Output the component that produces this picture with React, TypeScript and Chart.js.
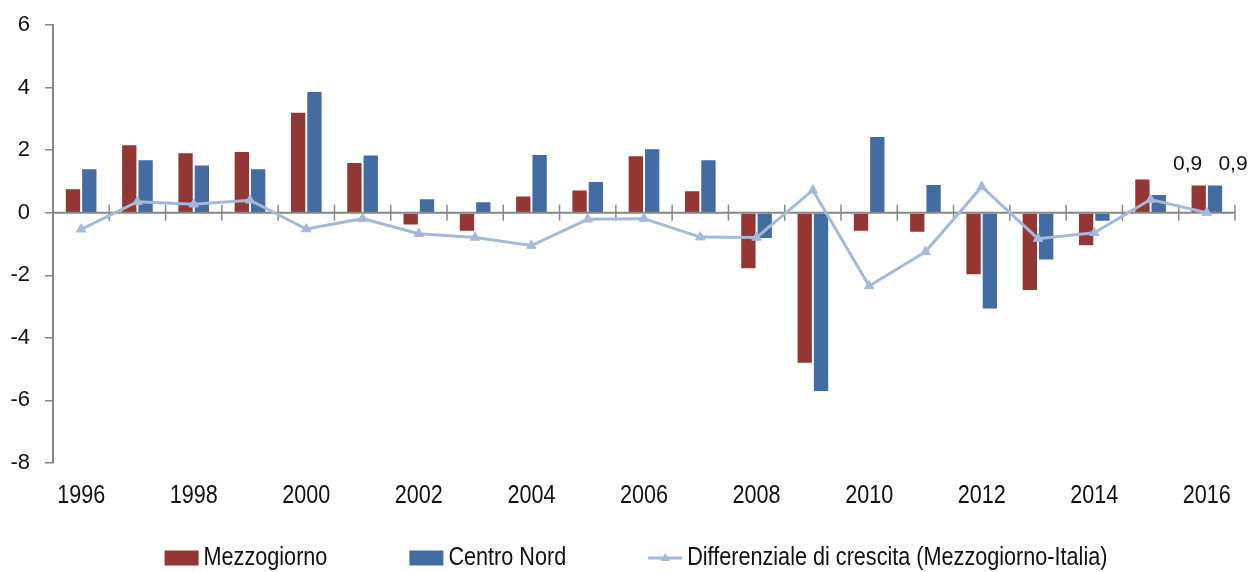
import React, { useEffect, useRef } from "react";
import { Chart, registerables, CategoryScale } from "chart.js";

const years = [
  "1996", "1997", "1998", "1999", "2000", "2001", "2002", "2003", "2004", "2005", "2006",
  "2007", "2008", "2009", "2010", "2011", "2012", "2013", "2014", "2015", "2016",
];
const mezzogiorno = [
  0.78, 2.19, 1.93, 1.97, 3.23, 1.62, -0.41, -0.61, 0.55, 0.74, 1.84,
  0.72, -1.81, -4.83, -0.61, -0.64, -2.0, -2.5, -1.07, 1.09, 0.9,
];
const centroNord = [
  1.42, 1.71, 1.54, 1.42, 3.89, 1.86, 0.46, 0.37, 1.88, 1.01, 2.06,
  1.71, -0.84, -5.73, 2.45, 0.92, -3.09, -1.53, -0.29, 0.6, 0.9,
];
const differenziale = [
  -0.53, 0.35, 0.27, 0.4, -0.52, -0.19, -0.67, -0.79, -1.05, -0.21, -0.19,
  -0.78, -0.79, 0.72, -2.34, -1.25, 0.83, -0.83, -0.64, 0.42, 0.0,
];
const yTicks = [6, 4, 2, 0, -2, -4, -6, -8];
// data labels: [datasetIndex, dataIndex, horizontal nudge]
const dataLabels: [number, number, number][] = [
  [0, 20, -11],
  [1, 20, 18],
];

const REGULAR = '"Liberation Sans", Arial, sans-serif';
const SQUEEZE = 0.83; // emulate a narrow typeface
const AXIS_GREY = "#878787";
const RED = "#943634";
const BLUE = "#436ca3";
const LINE = "#a5b9da";

// Category scale whose labels are drawn horizontally condensed
class NarrowCategoryScale extends (CategoryScale as any) {
  static id = "narrowCategory";
  drawLabels(chartArea: any) {
    const ctx = (this as any).ctx as CanvasRenderingContext2D;
    const items = (this as any).getLabelItems(chartArea);
    for (const item of items) {
      const { label, font, textOffset, options } = item;
      if (!label) continue;
      ctx.save();
      ctx.font = font.string;
      ctx.fillStyle = options.color;
      ctx.textAlign = "center";
      ctx.textBaseline = options.textBaseline || "middle";
      ctx.translate(options.translation[0], options.translation[1]);
      ctx.scale(SQUEEZE, 1);
      ctx.fillText(String(label), 0, textOffset);
      ctx.restore();
    }
  }
}

Chart.register(...registerables, NarrowCategoryScale as any);

function drawTriangle(ctx: CanvasRenderingContext2D, x: number, y: number, r: number) {
  ctx.beginPath();
  ctx.moveTo(x, y - r);
  ctx.lineTo(x + r * 0.95, y + r * 0.6);
  ctx.lineTo(x - r * 0.95, y + r * 0.6);
  ctx.closePath();
  ctx.fill();
}

const zeroAxisPlugin = {
  id: "zeroAxis",
  beforeDatasetDraw(chart: any, args: any) {
    if (args.meta.type !== "line") return;
    const { ctx, chartArea, scales } = chart;
    const y0 = scales.y.getPixelForValue(0);
    const xs = scales.x;
    const step = xs.getPixelForValue(1) - xs.getPixelForValue(0);
    ctx.save();
    ctx.strokeStyle = AXIS_GREY;
    ctx.lineWidth = 2;
    ctx.beginPath();
    ctx.moveTo(chartArea.left, y0);
    ctx.lineTo(chartArea.right, y0);
    ctx.stroke();
    ctx.lineWidth = 1.5;
    const n = years.length;
    for (let i = 0; i <= n; i++) {
      const x = i < n ? xs.getPixelForValue(i) - step / 2 : chartArea.right;
      ctx.beginPath();
      ctx.moveTo(x, y0 - 8);
      ctx.lineTo(x, y0 + 8);
      ctx.stroke();
    }
    ctx.restore();
  },
};

const dataLabelPlugin = {
  id: "dataLabelsCustom",
  afterDatasetsDraw(chart: any) {
    const { ctx } = chart;
    ctx.save();
    ctx.font = `21px ${REGULAR}`;
    ctx.fillStyle = "#111";
    ctx.textAlign = "center";
    ctx.textBaseline = "middle";
    dataLabels.forEach(([di, idx, dx]) => {
      const el = chart.getDatasetMeta(di).data[idx];
      const v = chart.data.datasets[di].data[idx] as number;
      ctx.fillText(v.toFixed(1).replace(".", ","), el.x + dx, el.y - 20);
    });
    ctx.restore();
  },
};

const legendPlugin = {
  id: "customLegend",
  afterDraw(chart: any) {
    const { ctx, chartArea } = chart;
    const BOX_W = 34;
    const BOX_H = 15;
    const TEXT_GAP = 5;
    const GAP = 82;
    const LSQ = 0.865;
    ctx.save();
    ctx.font = `25px ${REGULAR}`;
    const items = chart.data.datasets.map((ds: any) => ({
      label: ds.label,
      type: ds.type,
      color: ds.type === "line" ? ds.borderColor : ds.backgroundColor,
    }));
    const textW = items.map((it: any) => ctx.measureText(it.label).width * LSQ);
    const widths = textW.map((w: number) => BOX_W + TEXT_GAP + w);
    const total = widths.reduce((a: number, b: number) => a + b, 0) + GAP * (items.length - 1);
    let x = (chartArea.left + chartArea.right) / 2 - total / 2 - 8;
    const y = chart.height - 14;
    items.forEach((it: any, i: number) => {
      if (it.type === "line") {
        ctx.strokeStyle = it.color;
        ctx.fillStyle = it.color;
        ctx.lineWidth = 3;
        ctx.beginPath();
        ctx.moveTo(x, y);
        ctx.lineTo(x + BOX_W, y);
        ctx.stroke();
        drawTriangle(ctx, x + BOX_W / 2, y, 5);
      } else {
        ctx.fillStyle = it.color;
        ctx.fillRect(x, y - BOX_H / 2, BOX_W, BOX_H);
      }
      ctx.save();
      ctx.fillStyle = "#111";
      ctx.textAlign = "left";
      ctx.textBaseline = "middle";
      ctx.translate(x + BOX_W + TEXT_GAP, y);
      ctx.scale(LSQ, 1);
      ctx.fillText(it.label, 0, 0);
      ctx.restore();
      x += widths[i] + GAP;
    });
    ctx.restore();
  },
};

export default function App() {
  const ref = useRef<HTMLCanvasElement | null>(null);
  useEffect(() => {
    if (!ref.current) return;
    const chart = new Chart(ref.current, {
      type: "bar",
      data: {
        labels: years,
        datasets: [
          {
            type: "bar",
            label: "Mezzogiorno",
            data: mezzogiorno,
            backgroundColor: RED,
            borderColor: "rgba(255,255,255,0.55)",
            borderWidth: 1,
            order: 1,
          },
          {
            type: "bar",
            label: "Centro Nord",
            data: centroNord,
            backgroundColor: BLUE,
            borderColor: "rgba(255,255,255,0.55)",
            borderWidth: 1,
            order: 1,
          },
          {
            type: "line",
            label: "Differenziale di crescita (Mezzogiorno-Italia)",
            data: differenziale,
            borderColor: LINE,
            backgroundColor: LINE,
            borderWidth: 3,
            pointStyle: "triangle",
            pointRadius: 5.5,
            pointBorderWidth: 1,
            tension: 0,
            order: 0,
          } as any,
        ],
      },
      options: {
        responsive: false,
        animation: false,
        layout: { padding: { left: 0, right: 17, top: 25, bottom: 59 } },
        datasets: {
          bar: { categoryPercentage: 0.58, barPercentage: 1 },
        },
        plugins: {
          legend: { display: false },
          tooltip: { enabled: false },
        },
        scales: {
          x: {
            type: "narrowCategory" as any,
            grid: { display: false, drawTicks: false },
            border: { display: false },
            ticks: {
              autoSkip: false,
              maxRotation: 0,
              padding: 17,
              color: "#111",
              font: { family: REGULAR, size: 26 },
              callback: (_v: any, i: number) => (i % 2 === 0 ? years[i] : ""),
            },
            afterFit: (s: any) => {
              s.height = 50;
              s.paddingLeft = 0;
              s.paddingRight = 0;
            },
          },
          y: {
            min: -8,
            max: 6,
            afterBuildTicks: (s: any) => {
              s.ticks = yTicks.map((v) => ({ value: v }));
            },
            grid: {
              drawOnChartArea: false,
              drawTicks: true,
              tickLength: 8,
              color: AXIS_GREY,
              lineWidth: 1.5,
            },
            border: { display: true, color: AXIS_GREY, width: 2 },
            ticks: {
              padding: 15,
              color: "#111",
              font: { family: REGULAR, size: 22 },
            },
            afterFit: (s: any) => {
              s.width = 53;
              s.paddingTop = 0;
              s.paddingBottom = 0;
            },
          },
        },
      },
      plugins: [zeroAxisPlugin, dataLabelPlugin, legendPlugin],
    });
    return () => chart.destroy();
  }, []);
  return (
    <div style={{ height: 556 }}>
      <canvas
        ref={ref}
        width={1252}
        height={572}
        style={{ display: "block", position: "absolute", left: 0, top: 0 }}
      />
    </div>
  );
}
